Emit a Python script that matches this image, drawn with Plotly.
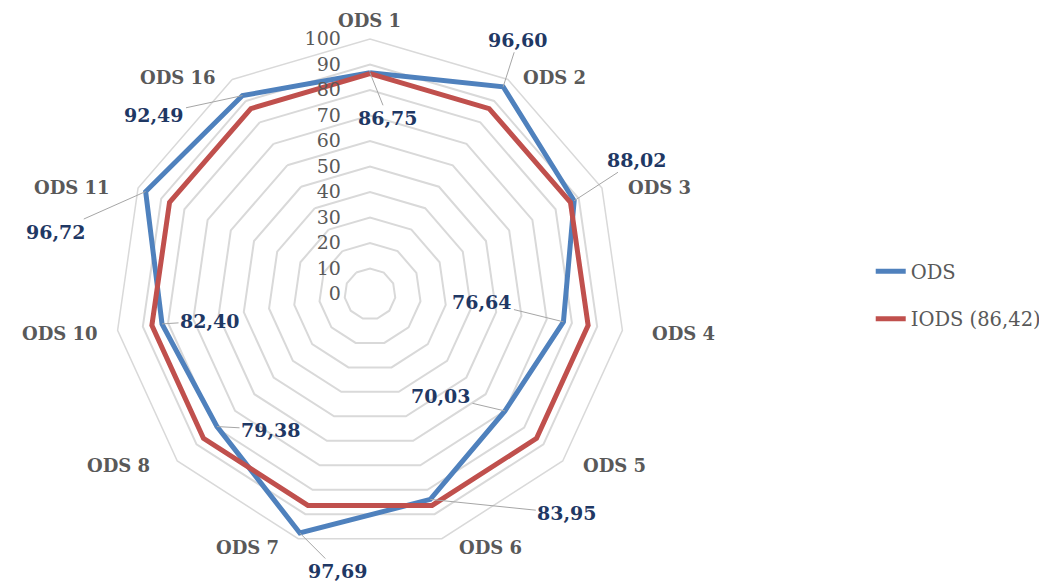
import math
import plotly.graph_objects as go

# ---------------- data ----------------
categories = ["ODS 1", "ODS 2", "ODS 3", "ODS 4", "ODS 5", "ODS 6",
              "ODS 7", "ODS 8", "ODS 10", "ODS 11", "ODS 16"]
ods_values = [86.75, 96.60, 88.02, 76.64, 70.03, 83.95,
              97.69, 79.38, 82.40, 96.72, 92.49]
iods_value = 86.42
iods_values = [iods_value] * len(categories)
radial_ticks = [0, 10, 20, 30, 40, 50, 60, 70, 80, 90, 100]
series_names = ["ODS", "IODS (86,42)"]

# ---------------- layout / style ----------------
W, H = 1047, 586
CX, CY, R = 362, 286, 255            # polar centre (px in figure) and radius
RMAX = 100
BLUE, RED = "#4F81BD", "#C0504D"
GRID = "#D9D9D9"
LABEL_NAVY = "#1F3864"
GREY_TXT = "#595959"
FONT = "DejaVu Serif"

# pixel offsets of each value label (text centre relative to its point)
label_offsets = [(18, 45), (15, -47), (63, -41), (-81, -20), (-64, -15),
                 (137, 14), (38, 38), (54, 3), (48, -3), (-90, 40), (-88, 19)]
# pixel offsets of each category label (relative to the outer vertex)
cat_offsets = [(-1, -19), (47, -2), (58, -1), (61, 3), (52, 5), (49, 9),
               (-51, 9), (-59, 5), (-58, 3), (-66, -1), (-54, -2)]

fig = go.Figure()
theta_closed = categories + categories[:1]
fig.add_trace(go.Scatterpolar(
    r=ods_values + ods_values[:1], theta=theta_closed, mode="lines",
    name=series_names[0], line=dict(color=BLUE, width=5), legendgroup="a"))
fig.add_trace(go.Scatterpolar(
    r=iods_values + iods_values[:1], theta=theta_closed, mode="lines",
    name=series_names[1], line=dict(color=RED, width=5), legendgroup="b"))

dom_x = [(CX - R) / W, (CX + R) / W]
dom_y = [(H - CY - R) / H, (H - CY + R) / H]

fig.update_layout(
    width=W, height=H,
    margin=dict(l=0, r=0, t=0, b=0),
    paper_bgcolor="white", plot_bgcolor="white",
    font=dict(family=FONT, color=GREY_TXT),
    polar=dict(
        domain=dict(x=dom_x, y=dom_y),
        bgcolor="white",
        gridshape="linear",
        radialaxis=dict(
            range=[0, RMAX], tickvals=radial_ticks, angle=90,
            side="counterclockwise", tickangle=90,
            showline=False, gridcolor=GRID, gridwidth=1.5,
            ticks="outside", ticklen=22, tickcolor="rgba(0,0,0,0)",
            tickfont=dict(family=FONT, size=19, color=GREY_TXT)),
        angularaxis=dict(
            rotation=90, direction="clockwise",
            showgrid=False, showline=True, linecolor=GRID, linewidth=1.5,
            ticks="", showticklabels=False)),
    legend=dict(x=0.824, y=0.51, xanchor="left", yanchor="middle",
                font=dict(family=FONT, size=19.5, color=GREY_TXT),
                tracegroupgap=19, bgcolor="rgba(0,0,0,0)"),
)


def to_paper(i, value):
    """Paper coordinates of a polar position (category index, radial value)."""
    ang = math.radians(90 - i * 360 / len(categories))
    rp = value / RMAX * R
    return (CX + rp * math.cos(ang)) / W, (H - CY + rp * math.sin(ang)) / H


# category labels around the outer polygon
for i, c in enumerate(categories):
    px, py = to_paper(i, RMAX)
    dx, dy = cat_offsets[i]
    fig.add_annotation(
        x=px, y=py, xref="paper", yref="paper", text="<b>" + c + "</b>",
        showarrow=False, xanchor="center", yanchor="middle",
        xshift=dx, yshift=-dy,
        font=dict(family=FONT, size=18, color=GREY_TXT))

# value labels with leader lines, anchored at the data point
for i, v in enumerate(ods_values):
    px, py = to_paper(i, v)
    dx, dy = label_offsets[i]
    fig.add_annotation(
        x=px, y=py, xref="paper", yref="paper",
        text="<b>" + f"{v:.2f}".replace(".", ",") + "</b>",
        showarrow=True, arrowhead=0, arrowwidth=1, arrowcolor="#A6A6A6",
        ax=dx, ay=dy, standoff=0,
        font=dict(family=FONT, size=19, color=LABEL_NAVY))

fig.write_html("out.html")
